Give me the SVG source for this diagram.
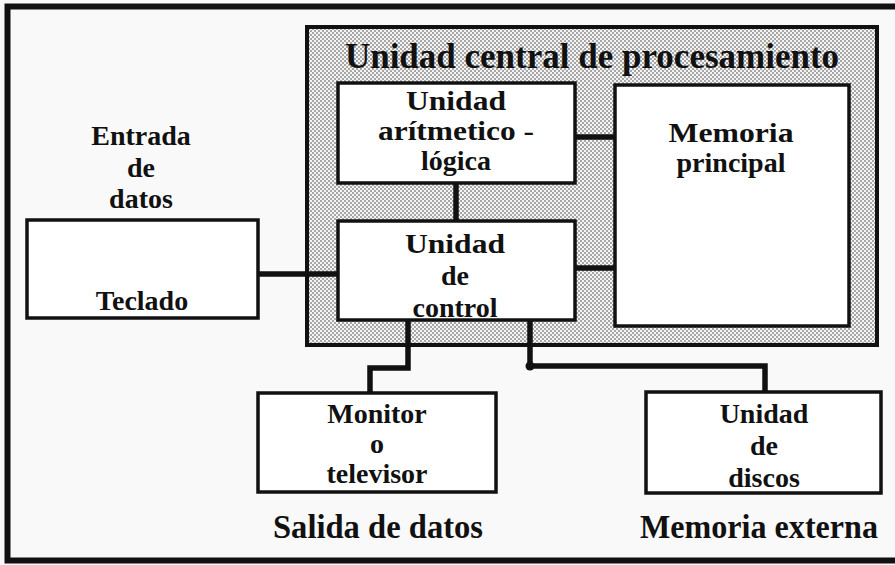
<svg xmlns="http://www.w3.org/2000/svg" width="895" height="565" viewBox="0 0 895 565">
<style>
.box{fill:#fff;stroke:#111;stroke-width:3.5}
.t{font-family:"Liberation Serif","Times New Roman",serif;font-weight:bold;font-size:28px;fill:#111;text-anchor:middle}
.title{font-size:35px}
.lbl{font-size:33px}
.conn{fill:none;stroke:#111;stroke-width:5.5;stroke-linejoin:miter;stroke-linecap:square}
</style>
<defs>
<pattern id="dots" width="4" height="4" patternUnits="userSpaceOnUse">
<rect width="4" height="4" fill="#f4f4f4"/>
<circle cx="1" cy="1" r="0.75" fill="#333"/>
<circle cx="3" cy="3" r="0.75" fill="#333"/>
</pattern>
</defs>
<rect x="0" y="0" width="895" height="565" fill="#f9f9f9"/>
<rect x="7.5" y="6.5" width="900" height="554" fill="none" stroke="#111" stroke-width="6"/>

<g id="cpu">
<rect x="307" y="27" width="570" height="318" fill="url(#dots)" stroke="#111" stroke-width="4"/>
<text class="t title" x="592" y="68">Unidad central de procesamiento</text>
</g>

<g id="connectors">
<path class="conn" d="M456 183 V221"/>
<path class="conn" d="M258 274 H338"/>
<path class="conn" d="M575 137 H615"/>
<path class="conn" d="M575 268 H615"/>
<path class="conn" d="M408 320 V368 H370 V393"/>
<path class="conn" d="M530 320 V366 H765 V392"/>
<circle cx="530" cy="366" r="4.5" fill="#111"/>
</g>

<g id="alu">
<rect class="box" x="338" y="83" width="237" height="100"/>
<text class="t" x="456" y="110" textLength="100" lengthAdjust="spacingAndGlyphs">Unidad</text>
<text class="t" x="456" y="140" textLength="156" lengthAdjust="spacingAndGlyphs">arítmetico -</text>
<text class="t" x="456" y="170">lógica</text>
</g>

<g id="memoria-principal">
<rect class="box" x="615" y="85" width="234" height="241"/>
<text class="t" x="731" y="142" textLength="125" lengthAdjust="spacingAndGlyphs">Memoria</text>
<text class="t" x="731" y="172">principal</text>
</g>

<g id="control">
<rect class="box" x="338" y="221" width="237" height="99"/>
<text class="t" x="455" y="253" textLength="100" lengthAdjust="spacingAndGlyphs">Unidad</text>
<text class="t" x="455" y="285">de</text>
<text class="t" x="455" y="317">control</text>
</g>

<g id="entrada">
<text class="t" x="141" y="145">Entrada</text>
<text class="t" x="141" y="177">de</text>
<text class="t" x="141" y="208">datos</text>
</g>

<g id="teclado">
<rect class="box" x="27" y="220" width="231" height="98"/>
<text class="t" x="142" y="310">Teclado</text>
</g>

<g id="monitor">
<rect class="box" x="258" y="393" width="238" height="99"/>
<text class="t" x="377" y="423">Monitor</text>
<text class="t" x="377" y="453">o</text>
<text class="t" x="377" y="483">televisor</text>
</g>

<g id="discos">
<rect class="box" x="646" y="392" width="235" height="101"/>
<text class="t" x="764" y="423">Unidad</text>
<text class="t" x="764" y="455">de</text>
<text class="t" x="764" y="487">discos</text>
</g>

<g id="labels">
<text class="t lbl" x="378" y="538" textLength="210" lengthAdjust="spacingAndGlyphs">Salida de datos</text>
<text class="t lbl" x="759" y="538" textLength="238" lengthAdjust="spacingAndGlyphs">Memoria externa</text>
</g>
</svg>
